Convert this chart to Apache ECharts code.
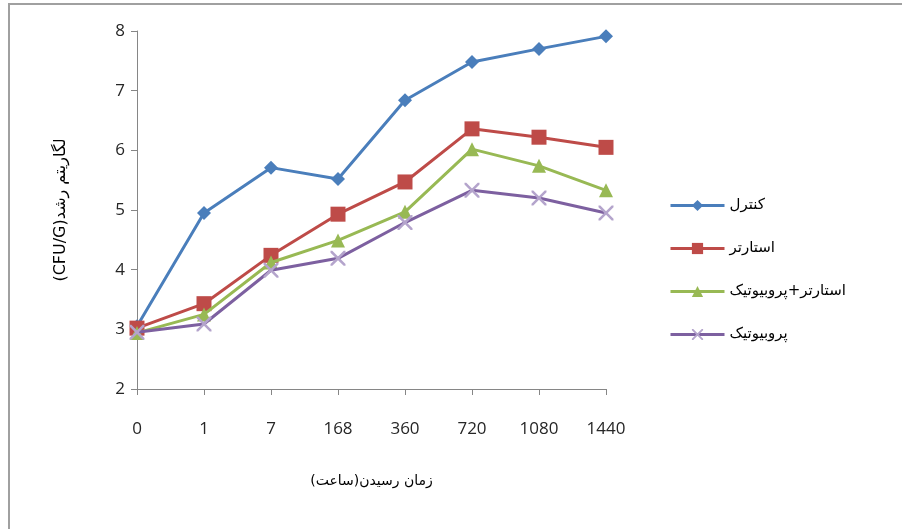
<!DOCTYPE html>
<html>
<head>
<meta charset="utf-8">
<script src="https://cdn.jsdelivr.net/npm/echarts@6/dist/echarts.min.js"></script>
<style>
  html, body { margin: 0; padding: 0; background: #ffffff; }
  #chart { width: 902px; height: 529px; direction: rtl; }
</style>
</head>
<body>
<div id="chart"></div>
<script>
// Ripening time (hours) on the category axis
const categories = ['0', '1', '7', '168', '360', '720', '1080', '1440'];

// Log growth (CFU/G) per treatment
const seriesNames = ['کنترل', 'استارتر', 'استارتر+پروبیوتیک', 'پروبیوتیک'];
const controlValues = [3.05, 4.95, 5.71, 5.52, 6.84, 7.48, 7.70, 7.91];
const starterValues = [3.02, 3.43, 4.24, 4.93, 5.47, 6.36, 6.22, 6.05];
const starterProbioticValues = [2.94, 3.25, 4.12, 4.49, 4.97, 6.02, 5.74, 5.33];
const probioticValues = [2.95, 3.09, 3.99, 4.19, 4.79, 5.33, 5.20, 4.95];

const yTicks = { min: 2, max: 8, interval: 1 };

const crossSymbol = 'path://M0,0L1.2,0L5,3.8L8.8,0L10,0L10,1.2L6.2,5L10,8.8L10,10L8.8,10L5,6.2L1.2,10L0,10L0,8.8L3.8,5L0,1.2Z';

const persianFont = '"DejaVu Sans", sans-serif';
const numFont = '"Open Sans", "Noto Sans", sans-serif';

const chart = echarts.init(document.getElementById('chart'), null, { renderer: 'canvas' });

function lineSeries(name, data, color, markerColor, symbol, size, z) {
  return {
    name: name,
    type: 'line',
    data: data,
    symbol: symbol,
    symbolSize: size,
    z: z,
    lineStyle: { color: color, width: 3 },
    itemStyle: { color: markerColor, borderColor: markerColor, borderWidth: 0 },
    emphasis: { disabled: true },
    animation: false
  };
}

chart.setOption({
  backgroundColor: '#ffffff',
  animation: false,
  graphic: [{
    type: 'rect',
    shape: { x: 9, y: 4, width: 1000, height: 700 },
    style: { fill: 'none', stroke: '#a0a0a0', lineWidth: 2 },
    silent: true
  }],
  grid: { left: 137, right: 296, top: 31, bottom: 140 },
  legend: {
    orient: 'vertical',
    left: 664,
    top: 193,
    itemWidth: 54,
    itemHeight: 14,
    itemGap: 28,
    lineStyle: { width: 3 },
    textStyle: { fontFamily: persianFont, fontSize: 15, color: '#000000', fontWeight: 'normal' },
    data: seriesNames
  },
  xAxis: {
    type: 'category',
    data: categories,
    boundaryGap: false,
    name: 'زمان رسیدن(ساعت)',
    nameLocation: 'middle',
    nameGap: 85,
    nameTextStyle: { fontFamily: persianFont, fontSize: 14, color: '#000000', fontWeight: 'normal' },
    axisLine: { lineStyle: { color: '#868686', width: 1 } },
    axisTick: { show: true, inside: false, length: 6, lineStyle: { color: '#868686' } },
    axisLabel: { margin: 32, fontFamily: numFont, fontSize: 17, color: '#262626' },
    splitLine: { show: false }
  },
  yAxis: {
    type: 'value',
    min: yTicks.min,
    max: yTicks.max,
    interval: yTicks.interval,
    name: 'لگاریتم رشد(CFU/G)',
    nameLocation: 'middle',
    nameGap: 68,
    nameRotate: 90,
    nameTextStyle: { fontFamily: persianFont, fontSize: 16, color: '#000000', fontWeight: 'normal' },
    axisLine: { show: true, lineStyle: { color: '#868686', width: 1 } },
    axisTick: { show: true, inside: false, length: 6, lineStyle: { color: '#868686' } },
    axisLabel: { margin: 12, fontFamily: numFont, fontSize: 17, color: '#262626' },
    splitLine: { show: false }
  },
  series: [
    lineSeries(seriesNames[0], controlValues, '#4a7ebb', '#4a7ebb', 'diamond', 14, 2),
    lineSeries(seriesNames[1], starterValues, '#be4b48', '#be4b48', 'rect', 15, 3),
    lineSeries(seriesNames[2], starterProbioticValues, '#98b954', '#98b954', 'triangle', 14, 4),
    lineSeries(seriesNames[3], probioticValues, '#7d60a0', '#b4a4cc', crossSymbol, 15, 5)
  ]
});
</script>
</body>
</html>
